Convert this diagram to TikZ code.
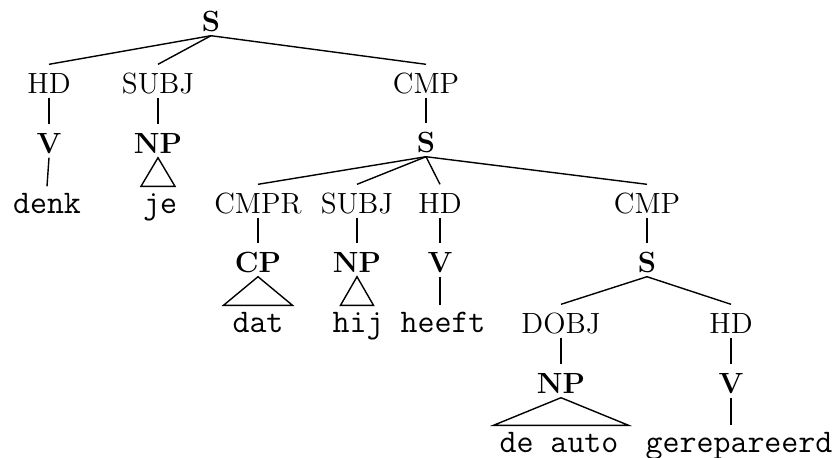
\documentclass[tikz,border=0pt]{standalone}
\usepackage{tikz}
\usetikzlibrary{calc}

\begin{document}
\begin{tikzpicture}[x=0.5pt,y=-0.5pt,line width=0.7pt,
	    cat/.style={anchor=base,inner sep=0pt,inner ysep=2pt,text height=12pt,text depth=0pt,font=\fontsize{14.6}{17}\selectfont\bfseries},
	    fun/.style={anchor=base,inner sep=0pt,inner ysep=2pt,text height=12pt,text depth=0pt,font=\fontsize{14.6}{17}\selectfont},
	    word/.style={anchor=base,inner sep=0pt,inner ysep=3pt,text height=10pt,text depth=0pt,font=\fontsize{16.5}{19}\selectfont\ttfamily}]
	    \useasboundingbox (0,0) rectangle (836,457);

	    \node[cat] (sA) at (211,31) {S};
	    \node[fun] (hdA) at (49,93) {HD};
	    \node[fun] (subjA) at (158,93) {SUBJ};
	    \node[fun] (cmpA) at (426,93) {CMP};
	    \node[cat] (vA) at (49,153) {V};
	    \node[cat] (npA) at (158,153) {NP};
	    \node[cat] (sB) at (426,152) {S};
	    \node[word] (denk) at (47,213) {denk};
	    \node[word] (je) at (160,213) {je};
	    \node[fun] (cmprB) at (258,213) {CMPR};
	    \node[fun] (subjB) at (357,213) {SUBJ};
	    \node[fun] (hdB) at (440,213) {HD};
	    \node[fun] (cmpB) at (647,213) {CMP};
	    \node[cat] (cpB) at (258,272) {CP};
	    \node[cat] (npB) at (357,272) {NP};
	    \node[cat] (vB) at (440,272) {V};
	    \node[cat] (sC) at (647,272) {S};
	    \node[word] (dat) at (258,332) {dat};
	    \node[word] (hij) at (358,332) {hij};
	    \node[word] (heeft) at (443,332) {heeft};
	    \node[fun] (dobjC) at (561,333) {DOBJ};
	    \node[fun] (hdC) at (731,333) {HD};
	    \node[cat] (npC) at (561,393) {NP};
	    \node[cat] (vC) at (731,393) {V};
	    \node[word] (deauto) at (559,452) {de auto};
	    \node[word] (gerep) at (739,452) {gerepareerd};

	    % top clause
	    \draw (sA.south) -- (hdA.north);
	    \draw (sA.south) -- (subjA.north);
	    \draw (sA.south) -- (cmpA.north);
	    \draw (hdA.south) -- (vA.north);
	    \draw (subjA.south) -- (npA.north);
	    \draw (cmpA.south) -- (sB.north);
	    \draw (vA.south) -- (denk.north);
	    \draw (npA.south) -- ($(npA.south |- je.north)+(-17,0)$) -- ($(npA.south |- je.north)+(17,0)$) -- cycle;

	    % middle clause
	    \draw (sB.south) -- (cmprB.north);
	    \draw (sB.south) -- (subjB.north);
	    \draw (sB.south) -- (hdB.north);
	    \draw (sB.south) -- (cmpB.north);
	    \draw (cmprB.south) -- (cpB.north);
	    \draw (subjB.south) -- (npB.north);
	    \draw (hdB.south) -- (vB.north);
	    \draw (cmpB.south) -- (sC.north);
	    \draw (cpB.south) -- ($(cpB.south |- dat.north)+(-34.5,0)$) -- ($(cpB.south |- dat.north)+(34.5,0)$) -- cycle;
	    \draw (npB.south) -- ($(npB.south |- hij.north)+(-16.5,0)$) -- ($(npB.south |- hij.north)+(16.5,0)$) -- cycle;
	    \draw (vB.south) -- (vB.south |- heeft.north);

	    % lowest clause
	    \draw (sC.south) -- (dobjC.north);
	    \draw (sC.south) -- (hdC.north);
	    \draw (dobjC.south) -- (npC.north);
	    \draw (hdC.south) -- (vC.north);
	    \draw (npC.south) -- ($(npC.south |- deauto.north)+(-67.5,0)$) -- ($(npC.south |- deauto.north)+(67.5,0)$) -- cycle;
	    \draw (vC.south) -- (vC.south |- gerep.north);
	\end{tikzpicture}
\end{document}
